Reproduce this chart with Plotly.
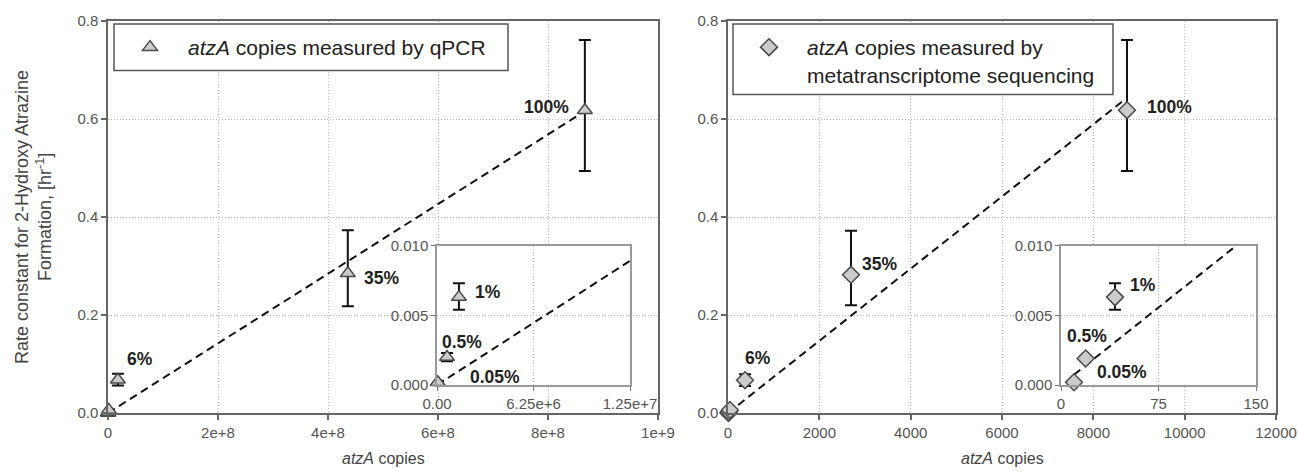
import plotly.graph_objects as go

W, H = 1298, 472

# ---------------- data ----------------
pct_labels = ["0.05%", "0.5%", "1%", "6%", "35%", "100%"]

qpcr_x = [5.0e4, 6.5e5, 1.42e6, 1.8e7, 4.36e8, 8.67e8]
qpcr_y = [0.0002, 0.0020, 0.0063, 0.068, 0.285, 0.618]
qpcr_err_plus = [0.0001, 0.0003, 0.0010, 0.012, 0.088, 0.143]
qpcr_err_minus = [0.0001, 0.0003, 0.0009, 0.012, 0.067, 0.124]

meta_x = [10, 19, 41.5, 372, 2693, 8737]
meta_y = [0.0002, 0.0019, 0.0063, 0.067, 0.282, 0.618]
meta_err_plus = [0.0001, 0.0002, 0.0010, 0.012, 0.090, 0.143]
meta_err_minus = [0.0001, 0.0002, 0.0009, 0.012, 0.062, 0.124]

qpcr_fit_x = [0, 8.67e8]
qpcr_fit_y = [0, 0.616]
qpcr_inset_fit_x = [0, 1.25e7]
qpcr_inset_fit_y = [0, 0.0089]

meta_fit_x = [0, 8650]
meta_fit_y = [0, 0.637]
meta_inset_fit_x = [10, 135]
meta_inset_fit_y = [0.00074, 0.0100]

main_y_range = [0, 0.8]
qpcr_x_range = [0, 1e9]
meta_x_range = [0, 12000]
inset_y_range = [0, 0.01]
qpcr_inset_x_range = [0, 1.25e7]
meta_inset_x_range = [0, 150]

main_y_ticks = [0.0, 0.2, 0.4, 0.6, 0.8]
qpcr_x_ticks = [0, 2e8, 4e8, 6e8, 8e8, 1e9]
qpcr_x_ticktext = ["0", "2e+8", "4e+8", "6e+8", "8e+8", "1e+9"]
meta_x_ticks = [0, 2000, 4000, 6000, 8000, 10000, 12000]
inset_y_ticks = [0.0, 0.005, 0.010]
qpcr_inset_x_ticks = [0, 6.25e6, 1.25e7]
qpcr_inset_x_ticktext = ["0.00", "6.25e+6", "1.25e+7"]
meta_inset_x_ticks = [0, 75, 150]

N_INSET = 3  # first three treatments shown in the insets

# ---------------- layout geometry (pixels) ----------------
def dx(a, b):
    return [a / W, b / W]

def dy(top, bottom):
    return [1 - bottom / H, 1 - top / H]

L_main_x = dx(108, 658)
R_main_x = dx(728, 1276)
main_y = dy(21, 413)
L_ins_x = dx(437, 630)
R_ins_x = dx(1061, 1256)
ins_y = dy(245.5, 385)

FONT = "Liberation Sans, Arial, sans-serif"
fill = "#cbcbcb"
edge = "#4a4a4a"

fig = go.Figure()

tri = dict(symbol="triangle-up", size=13, color=fill, line=dict(color=edge, width=1.5))
dia = dict(symbol="diamond", size=13, color=fill, line=dict(color=edge, width=1.5))


def err(p, m):
    return dict(type="data", symmetric=False, array=p, arrayminus=m,
                color="#111", thickness=2, width=6)

dash = dict(color="#111", width=2, dash="8px,5px")

# left main
fig.add_trace(go.Scatter(x=qpcr_fit_x, y=qpcr_fit_y, mode="lines", line=dash,
                         xaxis="x", yaxis="y", showlegend=False, hoverinfo="skip"))
fig.add_trace(go.Scatter(x=qpcr_x, y=qpcr_y, mode="markers", marker=tri,
                         error_y=err(qpcr_err_plus, qpcr_err_minus),
                         name="<i>atzA</i> copies measured by qPCR",
                         xaxis="x", yaxis="y", cliponaxis=False, legend="legend"))
# left inset
fig.add_trace(go.Scatter(x=qpcr_inset_fit_x, y=qpcr_inset_fit_y, mode="lines", line=dash,
                         xaxis="x2", yaxis="y2", showlegend=False, hoverinfo="skip"))
fig.add_trace(go.Scatter(x=qpcr_x[:N_INSET], y=qpcr_y[:N_INSET], mode="markers", marker=tri,
                         error_y=err(qpcr_err_plus[:N_INSET], qpcr_err_minus[:N_INSET]),
                         xaxis="x2", yaxis="y2", cliponaxis=False, showlegend=False))
# right main
fig.add_trace(go.Scatter(x=meta_fit_x, y=meta_fit_y, mode="lines", line=dash,
                         xaxis="x3", yaxis="y3", showlegend=False, hoverinfo="skip"))
fig.add_trace(go.Scatter(x=meta_x, y=meta_y, mode="markers", marker=dia,
                         error_y=err(meta_err_plus, meta_err_minus),
                         name="<i>atzA</i> copies measured by<br>metatranscriptome sequencing",
                         xaxis="x3", yaxis="y3", cliponaxis=False, legend="legend2"))
# right inset
fig.add_trace(go.Scatter(x=meta_inset_fit_x, y=meta_inset_fit_y, mode="lines", line=dash,
                         xaxis="x4", yaxis="y4", showlegend=False, hoverinfo="skip"))
fig.add_trace(go.Scatter(x=meta_x[:N_INSET], y=meta_y[:N_INSET], mode="markers", marker=dia,
                         error_y=err(meta_err_plus[:N_INSET], meta_err_minus[:N_INSET]),
                         xaxis="x4", yaxis="y4", cliponaxis=False, showlegend=False))

tickfont = dict(family=FONT, size=15, color="#555")
grid = dict(showgrid=True, gridcolor="#b8b8b8", gridwidth=1, griddash="1px,2px", zeroline=False)
main_line = dict(showline=True, linecolor="#666", linewidth=1.5, mirror=True, automargin=False,
                 ticks="outside", ticklen=5, tickwidth=1.5, tickcolor="#666", tickfont=tickfont)
ins_line = dict(showline=True, linecolor="#9a9a9a", linewidth=1.5, mirror=True, automargin=False,
                ticks="outside", ticklen=4, tickwidth=1, tickcolor="#777", tickfont=tickfont)

legend_font = dict(family=FONT, size=21, color="#222")

fig.update_layout(
    width=W, height=H, autosize=False,
    margin=dict(l=0, r=0, t=0, b=0, pad=0, autoexpand=False),
    paper_bgcolor="white", plot_bgcolor="white",
    font=dict(family=FONT, color="#333"),
    xaxis=dict(domain=L_main_x, anchor="y", range=qpcr_x_range, tickvals=qpcr_x_ticks,
               ticktext=qpcr_x_ticktext, **grid, **main_line),
    yaxis=dict(domain=main_y, anchor="x", range=main_y_range, tickvals=main_y_ticks,
               tickformat=".1f", **grid, **main_line),
    xaxis2=dict(domain=L_ins_x, anchor="y2", range=qpcr_inset_x_range, tickvals=qpcr_inset_x_ticks,
                ticktext=qpcr_inset_x_ticktext, **grid, **ins_line),
    yaxis2=dict(domain=ins_y, anchor="x2", range=inset_y_range, tickvals=inset_y_ticks,
                tickformat=".3f", **grid, **ins_line),
    xaxis3=dict(domain=R_main_x, anchor="y3", range=meta_x_range, tickvals=meta_x_ticks,
                tickformat="d", **grid, **main_line),
    yaxis3=dict(domain=main_y, anchor="x3", range=main_y_range, tickvals=main_y_ticks,
                tickformat=".1f", **grid, **main_line),
    xaxis4=dict(domain=R_ins_x, anchor="y4", range=meta_inset_x_range, tickvals=meta_inset_x_ticks,
                tickformat="d", **grid, **ins_line),
    yaxis4=dict(domain=ins_y, anchor="x4", range=inset_y_range, tickvals=inset_y_ticks,
                tickformat=".3f", **grid, **ins_line),
    legend=dict(x=112 / W, y=1 - 27 / H, xanchor="left", yanchor="top",
                bgcolor="rgba(0,0,0,0)", borderwidth=0, itemwidth=66, valign="top",
                font=legend_font),
    legend2=dict(x=731 / W, y=1 - 27 / H, xanchor="left", yanchor="top",
                 bgcolor="rgba(0,0,0,0)", borderwidth=0, itemwidth=66, valign="top",
                 font=legend_font),
)

# white backgrounds hiding the main grid behind the insets (in main data units)
def to_data(inner, outer, rng):
    f0 = (inner[0] - outer[0]) / (outer[1] - outer[0])
    f1 = (inner[1] - outer[0]) / (outer[1] - outer[0])
    return rng[0] + f0 * (rng[1] - rng[0]), rng[0] + f1 * (rng[1] - rng[0])

for xa, ya, ins_x, main_x, xr in (("x", "y", L_ins_x, L_main_x, qpcr_x_range),
                                  ("x3", "y3", R_ins_x, R_main_x, meta_x_range)):
    x0, x1 = to_data(ins_x, main_x, xr)
    y0, y1 = to_data(ins_y, main_y, main_y_range)
    fig.add_shape(type="rect", xref=xa, yref=ya, x0=x0, x1=x1, y0=y0, y1=y1,
                  fillcolor="white", line=dict(width=0), layer="between")

# legend frames
for (x0, x1, y0, y1) in ((114, 508, 24, 70.5), (733, 1113, 24, 94.5)):
    fig.add_shape(type="rect", xref="paper", yref="paper",
                  x0=x0 / W, x1=x1 / W, y0=1 - y1 / H, y1=1 - y0 / H,
                  fillcolor="white", line=dict(color="#555", width=1.5), layer="above")

# point labels
lab_font = dict(family=FONT, size=17.5, color="#222")
label_specs = [
    ("x", "y", qpcr_x, qpcr_y, 5, "right", -14, 3),
    ("x", "y", qpcr_x, qpcr_y, 4, "left", 14, -5),
    ("x", "y", qpcr_x, qpcr_y, 3, "left", 7, 21),
    ("x2", "y2", qpcr_x, qpcr_y, 2, "left", 14, 5),
    ("x2", "y2", qpcr_x, qpcr_y, 1, "left", -7, 15),
    ("x2", "y2", qpcr_x, qpcr_y, 0, "left", 30, 5),
    ("x3", "y3", meta_x, meta_y, 5, "left", 18, 3),
    ("x3", "y3", meta_x, meta_y, 4, "left", 9, 11),
    ("x3", "y3", meta_x, meta_y, 3, "left", -2, 22),
    ("x4", "y4", meta_x, meta_y, 2, "left", 13, 12),
    ("x4", "y4", meta_x, meta_y, 1, "left", -21, 23),
    ("x4", "y4", meta_x, meta_y, 0, "left", 21, 10),
]
for xr, yr, xs, ys, i, xan, xsh, ysh in label_specs:
    fig.add_annotation(x=xs[i], y=ys[i], xref=xr, yref=yr, text=f"<b>{pct_labels[i]}</b>",
                       showarrow=False, xanchor=xan, yanchor="middle", xshift=xsh, yshift=ysh,
                       font=lab_font)

# axis titles
title_font = dict(family=FONT, size=16, color="#444")
for dom in (L_main_x, R_main_x):
    fig.add_annotation(x=(dom[0] + dom[1]) / 2, y=1 - 458 / H, xref="paper", yref="paper",
                       text="<i>atzA</i> copies", showarrow=False, xanchor="center",
                       yanchor="middle", font=title_font)
fig.add_annotation(x=33 / W, y=(main_y[0] + main_y[1]) / 2, xref="paper", yref="paper",
                   text="Rate constant for 2-Hydroxy Atrazine<br>Formation, [hr<sup>-1</sup>]",
                   showarrow=False, textangle=-90, xanchor="center", yanchor="middle",
                   font=dict(family=FONT, size=18, color="#444"))

fig.write_html("out.html", config={"displayModeBar": False},
               post_script="document.body.style.margin='0';")
